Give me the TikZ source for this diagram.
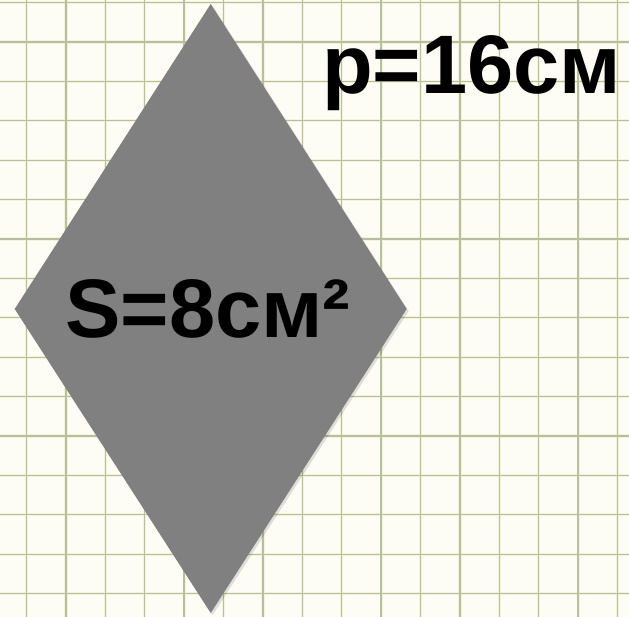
\documentclass[tikz,border=0pt]{standalone}
\usepackage{fontspec}
\setmainfont{Liberation Sans}
\usepackage{tikz}
\usetikzlibrary{positioning}
\definecolor{paper}{RGB}{253,253,246}
\definecolor{gridline}{RGB}{184,190,160}
\definecolor{gridglow}{RGB}{242,245,218}
\definecolor{rhombfill}{RGB}{128,128,128}

\begin{document}
\begin{tikzpicture}[x=1pt,y=1pt,
  gridlines/.style={draw=gridline,line width=1.3pt},
  gridhalo/.style={draw=gridglow,line width=3.2pt},
  biglabel/.style={inner sep=0pt,anchor=base west,font=\bfseries\fontsize{83}{88}\selectfont,text=black}]
\fill[paper] (0,0) rectangle (629,617);
\useasboundingbox (0,0) rectangle (629,617);
% squared paper
\foreach \k in {0,...,15}{
  \draw[gridhalo] ({26.5+39.4*\k},0)--({26.5+39.4*\k},617);
  \draw[gridhalo] (0,{614.4-39.4*\k})--(629,{614.4-39.4*\k});
}
\foreach \k in {0,...,15}{
  \draw[gridlines] ({26.5+39.4*\k},0)--({26.5+39.4*\k},617);
  \draw[gridlines] (0,{614.4-39.4*\k})--(629,{614.4-39.4*\k});
}
% rhombus
\coordinate (rh_top) at (210.7,613);
\coordinate (rh_left) at (14.7,308);
\coordinate (rh_right) at (406.7,308);
\coordinate (rh_bottom) at (210.7,4);
\fill[black,opacity=0.12] ([shift={(2,-2)}]rh_top)--([shift={(2,-2)}]rh_right)--([shift={(2,-2)}]rh_bottom)--([shift={(2,-2)}]rh_left)--cycle;
\fill[rhombfill] (rh_top)--(rh_right)--(rh_bottom)--(rh_left)--cycle;
% labels
\node[biglabel] (area) at (65,279.3) {S=8см²};
\node[biglabel] (perim) at (322,523.7) {p=16см};
\end{tikzpicture}
\end{document}
